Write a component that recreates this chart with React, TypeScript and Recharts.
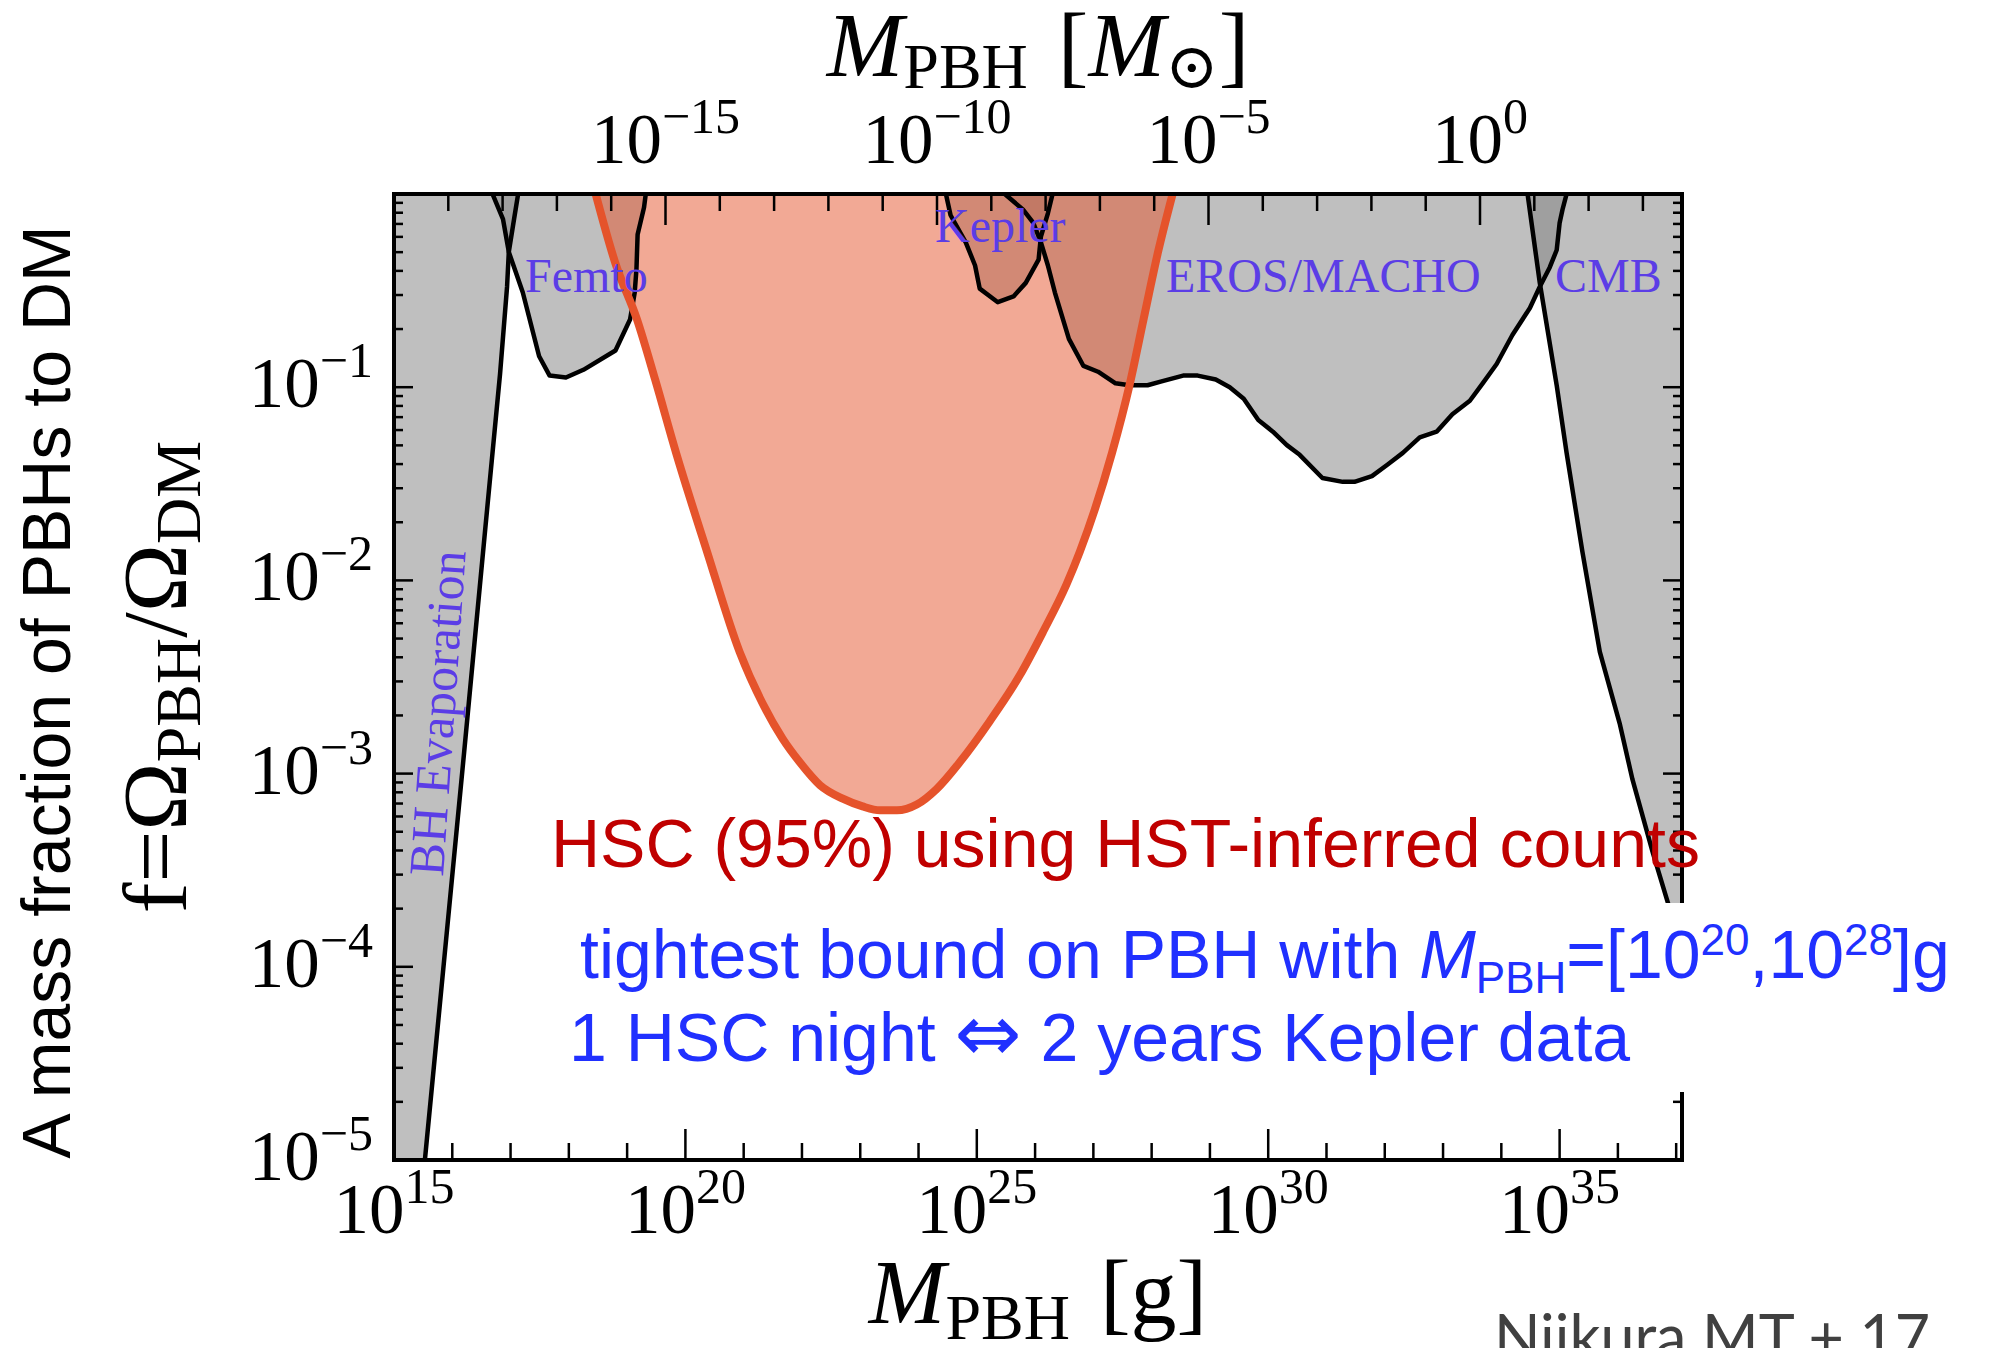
import React from 'react';
import { ComposedChart, Area, Line, XAxis, YAxis } from 'recharts';

// all values are log10: [log10(M / g), log10(f)]
const bhEvaporation = [
  [15.53, -5.0], [16.2, -2.9], [16.57, -1.72], [16.82, -0.93], [16.94, -0.48],
  [16.97, -0.3], [17.06, -0.13], [17.13, 0],
];
const femto = [
  [16.69, 0], [16.87, -0.13], [16.97, -0.3], [17.21, -0.51], [17.49, -0.84],
  [17.67, -0.94], [17.95, -0.95], [18.25, -0.91], [18.8, -0.81], [19.05, -0.65],
  [19.13, -0.51], [19.16, -0.39], [19.18, -0.21], [19.29, -0.07], [19.32, 0],
];
const kepler = [
  [24.47, 0], [24.55, -0.11], [24.81, -0.25], [24.97, -0.37], [25.05, -0.49],
  [25.36, -0.56], [25.63, -0.53], [25.84, -0.46], [26.06, -0.34], [26.1, -0.22],
  [26.22, -0.1], [26.3, 0],
];
const erosMacho = [
  [25.48, 0], [25.79, -0.08], [25.97, -0.15], [26.1, -0.25], [26.22, -0.37],
  [26.34, -0.51], [26.58, -0.75], [26.83, -0.89], [27.08, -0.92], [27.38, -0.98],
  [27.62, -0.99], [27.93, -0.99], [28.17, -0.97], [28.54, -0.94], [28.79, -0.94],
  [29.1, -0.96], [29.34, -1.0], [29.58, -1.06], [29.83, -1.17], [30.08, -1.23],
  [30.32, -1.3], [30.54, -1.35], [30.93, -1.47], [31.28, -1.49], [31.48, -1.49],
  [31.78, -1.46], [32.05, -1.4], [32.31, -1.34], [32.6, -1.26], [32.89, -1.23],
  [33.16, -1.14], [33.46, -1.07], [33.68, -0.98], [33.92, -0.88], [34.19, -0.73],
  [34.49, -0.59], [34.66, -0.48], [34.83, -0.38], [34.95, -0.29], [35.0, -0.15],
  [35.05, -0.08], [35.12, 0],
];
const cmb = [
  [34.45, 0], [34.66, -0.46], [34.95, -0.99], [35.12, -1.34], [35.39, -1.85],
  [35.69, -2.37], [36.03, -2.74], [36.25, -3.03], [36.6, -3.41], [36.86, -3.67],
  [37.1, -3.93],
];
const hsc = [
  [18.46, 0], [18.8, -0.36], [19.17, -0.65], [19.48, -0.96], [19.84, -1.34],
  [20.37, -1.85], [20.93, -2.37], [21.33, -2.64], [21.67, -2.82],
  [21.96, -2.94], [22.31, -3.06], [22.7, -3.13], [23.04, -3.17], [23.34, -3.19],
  [23.63, -3.19], [23.97, -3.16], [24.31, -3.08], [24.71, -2.94], [25.22, -2.73],
  [25.74, -2.49], [26.13, -2.27], [26.54, -2.02], [26.77, -1.85], [27.32, -1.34],
  [27.62, -0.99], [27.86, -0.65], [28.11, -0.3], [28.36, 0],
];

// axes (exponents)
const massDomain = [15, 37.1];
const massTicks = [15, 16, 17, 18, 19, 20, 21, 22, 23, 24, 25, 26, 27, 28, 29, 30, 31, 32, 33, 34, 35, 36, 37];
const massLabels = [15, 20, 25, 30, 35];
const sunDomain = [-20, 3.72];
const sunTicks = [-19, -18, -17, -16, -15, -14, -13, -12, -11, -10, -9, -8, -7, -6, -5, -4, -3, -2, -1, 0, 1, 2, 3];
const sunLabels = [-15, -10, -5, 0];
const fracDomain = [-5, 0];
const fracDecades = [-5, -4, -3, -2, -1];
const fracTicks = fracDecades.flatMap((d) => [d, ...[2, 3, 4, 5, 6, 7, 8, 9].map((k) => d + Math.log10(k))]);

const SERIF = '"Liberation Serif", "DejaVu Serif", serif';
const SANS = '"Liberation Sans", Arial, sans-serif';
const LABEL = '#5b3de6';

const pts = (rows: number[][]) => rows.map(([m, f]) => ({ m, f }));
const range = (d: { f: number }) => [d.f, 0];

const expText = (v: number) => (v < 0 ? `\u2212${-v}` : `${v}`);

const Pow = ({ x, y, exp, anchor }: any) => (
  <text x={x} y={y} textAnchor={anchor} fontFamily={SERIF} fontSize={71} fill="#000">
    10<tspan dy={-30} fontSize={50}>{expText(exp)}</tspan>
  </text>
);

const BottomTick = ({ x, y, payload }: any) => {
  const major = massLabels.includes(payload.value);
  return (
    <g>
      <line x1={x} x2={x} y1={y} y2={y - (major ? 31 : 17)} stroke="#000" strokeWidth={2.5} />
      {major && <Pow x={x} y={y + 73} exp={payload.value} anchor="middle" />}
    </g>
  );
};

const TopTick = ({ x, y, payload }: any) => {
  const major = sunLabels.includes(payload.value);
  return (
    <g>
      <line x1={x} x2={x} y1={y} y2={y + (major ? 31 : 17)} stroke="#000" strokeWidth={2.5} />
      {major && <Pow x={x} y={y - 31} exp={payload.value} anchor="middle" />}
    </g>
  );
};

const LeftTick = ({ x, y, payload }: any) => {
  const major = Number.isInteger(payload.value);
  return (
    <g>
      <line x1={x} x2={x + (major ? 19 : 9)} y1={y} y2={y} stroke="#000" strokeWidth={2.5} />
      {major && <Pow x={x - 21} y={y + 20} exp={payload.value} anchor="end" />}
    </g>
  );
};

const RightTick = ({ x, y, payload }: any) => {
  const major = Number.isInteger(payload.value);
  return <line x1={x} x2={x - (major ? 19 : 9)} y1={y} y2={y} stroke="#000" strokeWidth={2.5} />;
};

const frame = { stroke: '#000', strokeWidth: 4, strokeLinecap: 'square' as const };

const Overlay = () => (
  <svg width={1993} height={1348} style={{ position: 'absolute', left: 0, top: 0, whiteSpace: 'pre' }}>
    {/* axis titles */}
    <text x={1038} y={76} textAnchor="middle" fontFamily={SERIF} fontSize={92} fill="#000">
      <tspan fontStyle="italic">M</tspan>
      <tspan fontSize={64} dy={12}>PBH</tspan>
      <tspan dx={30} dy={-12}>[</tspan>
      <tspan fontStyle="italic">M</tspan>
      <tspan fontSize={64} dy={12}>{'\u2299'}</tspan>
      <tspan dy={-12}>]</tspan>
    </text>
    <text x={1038} y={1323} textAnchor="middle" fontFamily={SERIF} fontSize={92} fill="#000">
      <tspan fontStyle="italic">M</tspan>
      <tspan fontSize={64} dy={16}>PBH</tspan>
      <tspan dx={30} dy={-16}>[g]</tspan>
    </text>
    <text x={70} y={692} textAnchor="middle" fontFamily={SANS} fontSize={68} fill="#000"
      transform="rotate(-90 70 692)">
      A mass fraction of PBHs to DM
    </text>
    <text x={186} y={677} textAnchor="middle" fontFamily={SERIF} fontSize={92} fill="#000"
      transform="rotate(-90 186 677)">
      f={'\u03A9'}<tspan fontSize={64} dy={14}>PBH</tspan>
      <tspan dy={-14}>/{'\u03A9'}</tspan>
      <tspan fontSize={64} dy={14}>DM</tspan>
    </text>

    {/* region labels */}
    <g fontFamily={SERIF} fontSize={48} fill={LABEL}>
      <text x={525} y={292}>Femto</text>
      <text x={935} y={242}>Kepler</text>
      <text x={1166} y={292}>EROS/MACHO</text>
      <text x={1555} y={292}>CMB</text>
      <text x={443} y={877} fontSize={50} transform="rotate(-86 443 877)">BH Evaporation</text>
    </g>

    <text x={551} y={867} fontFamily={SANS} fontSize={68} fill="#c00000">
      HSC (95%) using HST-inferred counts
    </text>

    <rect x={555} y={903} width={1438} height={189} fill="#fff" />
    <g fontFamily={SANS} fill="#2030ff">
      <text x={580} y={978} fontSize={68}>
        tightest bound on PBH with <tspan fontStyle="italic">M</tspan>
        <tspan fontSize={44} dy={15}>PBH</tspan>
        <tspan dy={-15}>=[10</tspan>
        <tspan fontSize={44} dy={-23}>20</tspan>
        <tspan dy={23}>,10</tspan>
        <tspan fontSize={44} dy={-23}>28</tspan>
        <tspan dy={23}>]g</tspan>
      </text>
      <text x={569} y={1061} fontSize={68}>
        1 HSC night <tspan fontFamily='"DejaVu Sans", sans-serif' fontSize={80}>{'\u21D4'}</tspan> 2 years Kepler data
      </text>
    </g>

    <text x={1494} y={1359} fontFamily='Lato, "Open Sans", sans-serif' fontSize={61} fill="#404040">
      Niikura MT + 17
    </text>
  </svg>
);

export default function App() {
  return (
    <div style={{ position: 'absolute', left: 0, top: 0, width: 1993, height: 1348, overflow: 'hidden', background: '#fff' }}>
      <ComposedChart width={1993} height={1348} data={sunTicks.map((s) => ({ s }))}
        margin={{ top: 174, right: 301, bottom: 168, left: 334 }}>
        <XAxis xAxisId="g" dataKey="m" type="number" orientation="bottom" domain={massDomain}
          allowDataOverflow ticks={massTicks} interval={0} tick={BottomTick}
          tickLine={false} tickSize={0} tickMargin={0} axisLine={frame} height={20} />
        <XAxis xAxisId="sun" dataKey="s" type="number" orientation="top" domain={sunDomain}
          allowDataOverflow ticks={sunTicks} interval={0} tick={TopTick}
          tickLine={false} tickSize={0} tickMargin={0} axisLine={frame} height={20} />
        <YAxis yAxisId="f" type="number" orientation="left" domain={fracDomain}
          allowDataOverflow ticks={fracTicks} interval={0} tick={LeftTick}
          tickLine={false} tickSize={0} tickMargin={0} axisLine={frame} width={60} />
        <YAxis yAxisId="r" type="number" orientation="right" domain={fracDomain}
          allowDataOverflow ticks={fracTicks} interval={0} tick={RightTick}
          tickLine={false} tickSize={0} tickMargin={0} axisLine={frame} width={10} />

        <Area data={[{ m: 15, f: -5 }, ...pts(bhEvaporation)]} dataKey={range} xAxisId="g" yAxisId="f"
          type="linear" fill="#808080" fillOpacity={0.5} stroke="none" isAnimationActive={false} />
        <Area data={pts(femto)} dataKey={range} xAxisId="g" yAxisId="f"
          type="linear" fill="#808080" fillOpacity={0.5} stroke="none" isAnimationActive={false} />
        <Area data={pts(kepler)} dataKey={range} xAxisId="g" yAxisId="f"
          type="linear" fill="#808080" fillOpacity={0.5} stroke="none" isAnimationActive={false} />
        <Area data={pts(erosMacho)} dataKey={range} xAxisId="g" yAxisId="f"
          type="linear" fill="#808080" fillOpacity={0.5} stroke="none" isAnimationActive={false} />
        <Area data={pts(cmb)} dataKey={range} xAxisId="g" yAxisId="f"
          type="linear" fill="#808080" fillOpacity={0.5} stroke="none" isAnimationActive={false} />
        <Area data={pts(hsc)} dataKey={range} xAxisId="g" yAxisId="f"
          type="monotoneX" fill="#e5532b" fillOpacity={0.5} stroke="none" isAnimationActive={false} />

        {[bhEvaporation, femto, kepler, erosMacho, cmb].map((s, i) => (
          <Line key={i} data={pts(s)} dataKey="f" xAxisId="g" yAxisId="f" type="linear"
            stroke="#000" strokeWidth={4.5} strokeLinejoin="round" dot={false} isAnimationActive={false} />
        ))}
        <Line data={pts(hsc)} dataKey="f" xAxisId="g" yAxisId="f" type="monotoneX"
          stroke="#e5532b" strokeWidth={8} dot={false} isAnimationActive={false} />
      </ComposedChart>
      <Overlay />
    </div>
  );
}
